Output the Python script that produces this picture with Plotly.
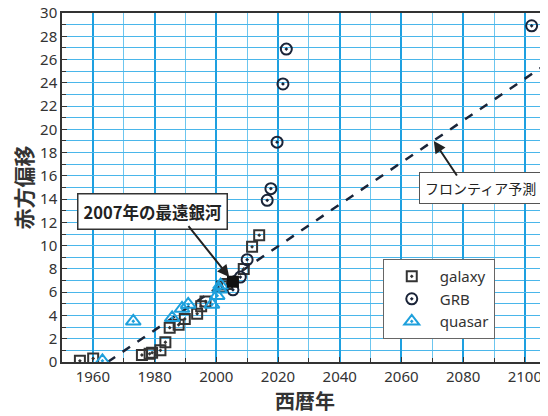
import plotly.graph_objects as go

# galaxy (open squares)
galaxy_year = [1955.8, 1960.1, 1975.9, 1978.4, 1979.2, 1981.9, 1983.5, 1984.9, 1987.8, 1989.8,
               1993.8, 1995.1, 1996.5, 2001.9, 2003.5, 2008.9, 2011.6, 2013.9]
galaxy_z = [0.1, 0.3, 0.6, 0.7, 0.8, 1.0, 1.7, 2.95, 3.2, 3.7,
            4.15, 4.8, 5.2, 6.5, 6.7, 8.0, 9.9, 10.9]

# 2007 farthest galaxy (filled square)
best_year = [2005.4]
best_z = [6.9]

# GRB (open circles)
grb_year = [2005.4, 2007.8, 2010.0, 2016.5, 2017.7, 2019.7, 2021.6, 2022.7, 2102.2]
grb_z = [6.2, 7.3, 8.8, 13.9, 14.9, 18.9, 23.9, 26.9, 28.9]

# quasar (open triangles)
quasar_year = [1963.1, 1973.1, 1985.7, 1988.9, 1990.9, 1998.6, 2000.3, 2001.1, 2001.4]
quasar_z = [0.1, 3.5, 3.8, 4.6, 4.95, 4.95, 5.7, 6.25, 6.6]

# frontier prediction line
front_year = [1964.8, 2110]
front_z = [0, 26.15]

jp = "Noto Sans CJK JP"
navy = "#1a2438"

fig = go.Figure()

fig.add_trace(go.Scatter(x=front_year, y=front_z, mode="lines", showlegend=False,
                         line=dict(color=navy, width=2.5, dash="dash")))

fig.add_trace(go.Scatter(x=galaxy_year, y=galaxy_z, mode="markers", name="galaxy",
                         marker=dict(symbol="square-open-dot", size=10, color="#333333",
                                     line=dict(width=2, color="#333333"))))
fig.add_trace(go.Scatter(x=grb_year, y=grb_z, mode="markers", name="GRB",
                         marker=dict(symbol="circle-open-dot", size=11, color=navy,
                                     line=dict(width=2, color=navy))))
fig.add_trace(go.Scatter(x=quasar_year, y=quasar_z, mode="markers", name="quasar",
                         marker=dict(symbol="triangle-up-open-dot", size=13, color="#1ea0dc",
                                     line=dict(width=2, color="#1ea0dc"))))
fig.add_trace(go.Scatter(x=best_year, y=best_z, mode="markers", showlegend=False,
                         marker=dict(symbol="square", size=12, color="#111111")))

# text boxes and arrows
fig.add_annotation(x=1979.4, y=12.9, text="<b>2007年の最遠銀河</b>", showarrow=False,
                   font=dict(family=jp, size=16.5, color="#222222"),
                   bgcolor="white", bordercolor="#333333", borderwidth=1.5, borderpad=5)
fig.add_annotation(x=2004.2, y=7.3, ax=1990.6, ay=11.8, axref="x", ayref="y", text="",
                   showarrow=True, arrowhead=2, arrowsize=1.2, arrowwidth=2, arrowcolor="#222222")
fig.add_annotation(x=2085.5, y=15.0, text="フロンティア予測", showarrow=False,
                   font=dict(family=jp, size=14, color="#222222"),
                   bgcolor="white", bordercolor="#555555", borderwidth=1, borderpad=5)
fig.add_annotation(x=2070.5, y=19.0, ax=2078.3, ay=15.9, axref="x", ayref="y", text="",
                   showarrow=True, arrowhead=2, arrowsize=1.2, arrowwidth=2, arrowcolor="#222222")

# page body adds an 8px offset, so the figure is 540x408
fig.update_layout(
    width=540, height=408,
    margin=dict(l=54, r=0, t=5, b=54),
    plot_bgcolor="white", paper_bgcolor="white",
    font=dict(family=jp, color="#333333"),
    legend=dict(x=0.66, y=0.295, xanchor="left", yanchor="top",
                bgcolor="white", bordercolor="#666666", borderwidth=1,
                font=dict(family="Noto Sans", size=15, color="#333333"),
                itemwidth=46, tracegroupgap=0),
)

fig.update_xaxes(
    range=[1950, 2107.5], tickvals=[1960, 1980, 2000, 2020, 2040, 2060, 2080, 2100],
    showgrid=True, gridcolor="#1ea0e0", gridwidth=2,
    minor=dict(dtick=10, tick0=1950, showgrid=True, gridcolor="#6cc6ef", gridwidth=1,
               ticks="inside", ticklen=4, tickcolor="#333333"),
    ticks="inside", ticklen=5, tickcolor="#333333",
    showline=True, linecolor="#333333", linewidth=1.5, mirror=True,
    tickfont=dict(family="Noto Sans", size=15, color="#333333"),
    ticklabeloverflow="allow",
    title=dict(text="<b>西暦年</b>", font=dict(family=jp, size=20, color="#333333"), standoff=4),
    zeroline=False, automargin=False,
)
fig.update_yaxes(
    range=[0, 30], dtick=2,
    showgrid=True, gridcolor="#4ab6ea", gridwidth=1,
    minor=dict(dtick=1, showgrid=True, gridcolor="#4ab6ea", gridwidth=1,
               ticks="inside", ticklen=4, tickcolor="#333333"),
    ticks="inside", ticklen=5, tickcolor="#333333",
    showline=True, linecolor="#333333", linewidth=1.5, mirror=True,
    tickfont=dict(family="Noto Sans", size=15, color="#333333"),
    ticklabeloverflow="allow",
    title=dict(text="<b>赤方偏移</b>", font=dict(family=jp, size=21, color="#333333"), standoff=10),
    zeroline=False, automargin=False,
)

fig.write_html("out.html")
